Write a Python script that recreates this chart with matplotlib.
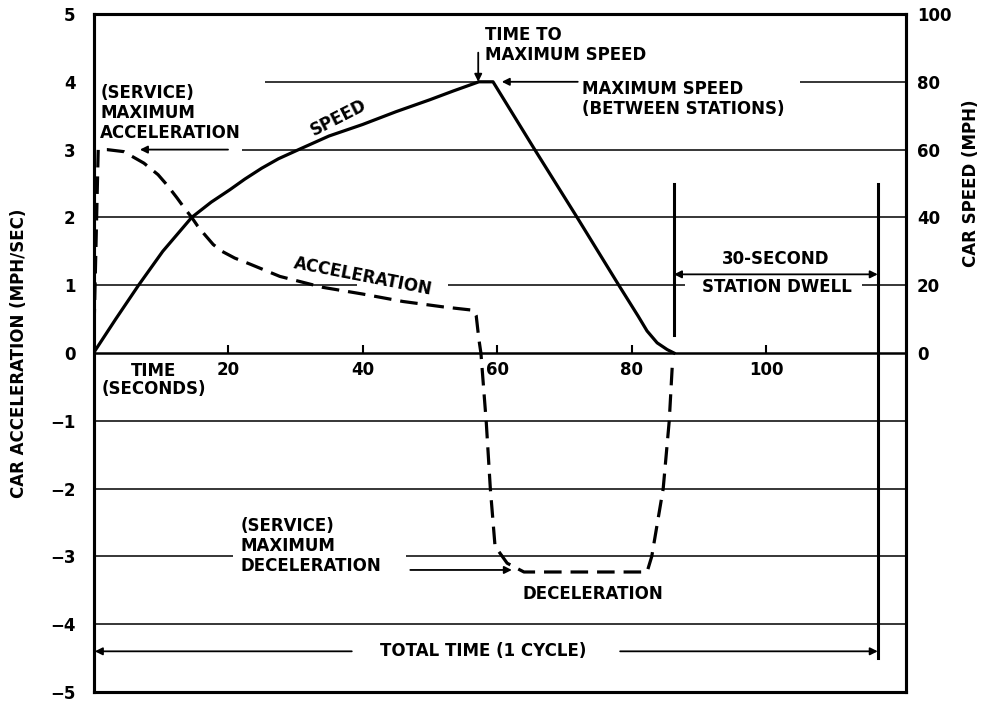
import matplotlib
matplotlib.use("Agg")
import matplotlib.pyplot as plt

plt.rcParams['font.family'] = ['DejaVu Sans']
plt.rcParams['font.weight'] = 'bold'
FS = 12

# ---------------- data ----------------
# Speed curve (time s, speed mph)
speed_t = [0, 3.3, 6.7, 10.3, 14.6, 17.5, 20.3, 22.5, 25.0, 27.5, 30.5, 35.0,
           40.0, 45.0, 50.0, 53.5, 57.3, 59.4,
           65.6, 71.9, 78.1, 81.0, 82.3, 83.8, 85.3, 86.3]
speed_v = [0, 10, 20, 30, 40, 44.5, 48.2, 51.3, 54.5, 57.3, 60, 64.0,
           67.4, 71.2, 74.7, 77.3, 80, 80,
           60, 40, 20, 10.8, 6.5, 3.0, 1.0, 0]

# Acceleration curve (time s, acceleration mph/sec)
acc_t = [0, 0.7, 2.0, 4.5, 7.5, 9.6, 11.0, 12.4, 13.5, 14.6, 15.5, 16.5,
         17.8, 19.1, 21.0, 23.3, 27.7, 34.0,
         40.0, 46.0, 52.0, 56.5, 56.9, 57.3, 57.6, 58.4, 59.0, 59.7, 61.5, 64.0,
         82.3, 83.0, 84.7, 85.6, 86.1]
acc_v = [0, 3.0, 3.0, 2.97, 2.8, 2.63, 2.47, 2.29, 2.14, 2.0, 1.87, 1.75,
         1.6, 1.5, 1.4, 1.31, 1.13, 0.97,
         0.87, 0.76, 0.68, 0.63, 0.55, 0.2, 0.0, -1.03, -2.0, -2.85, -3.1, -3.23,
         -3.23, -3.0, -2.0, -1.0, -0.1]

x_ticks = [20, 40, 60, 80, 100]
acc_ticks = [5, 4, 3, 2, 1, 0, -1, -2, -3, -4, -5]
speed_ticks = [0, 20, 40, 60, 80, 100]

t_max_speed = 57.2
t_dwell_start = 86.3
t_dwell_end = 116.6
XMAX = 120.8

# horizontal reference line segments: (level, t_start, t_end)
grid_segments = [
    (4, 25.5, 57.2), (4, 105.0, XMAX),
    (3, 22.1, XMAX),
    (2, 0, XMAX),
    (1, 0, 39.2), (1, 52.7, 88.0), (1, 114.2, XMAX),
    (-1, 0, XMAX), (-2, 0, XMAX),
    (-3, 0, 20.8), (-3, 46.5, XMAX),
    (-4, 0, XMAX),
]

# ---------------- figure ----------------
fig = plt.figure(figsize=(9.85, 7.02), dpi=100)
ax = fig.add_axes([93.5 / 985, 10 / 702, (906 - 93.5) / 985, (692 - 14) / 702])
ax.set_xlim(0, XMAX)
ax.set_ylim(-5, 5)

for lvl, a, b in grid_segments:
    ax.plot([a, b], [lvl, lvl], color='black', lw=1.1, solid_capstyle='butt', zorder=1)

# curves
ax.plot(acc_t, acc_v, color='black', lw=2.3, dashes=(5.5, 2.8), zorder=3)
ax2 = ax.twinx()
ax2.set_ylim(-100, 100)
ax2.plot(speed_t, speed_v, color='black', lw=2.3, zorder=3)

# dwell markers
ax.plot([t_dwell_start, t_dwell_start], [2.49, 0.27], color='black', lw=2.2)
ax.plot([t_dwell_end, t_dwell_end], [2.49, -4.5], color='black', lw=2.2)

# spines
for s in ax.spines.values():
    s.set_linewidth(2.2)
for s in ax2.spines.values():
    s.set_linewidth(2.2)

# left axis ticks
ax.set_yticks(acc_ticks)
ax.set_yticklabels([str(v).replace('-', '\u2212') for v in acc_ticks])
ax.tick_params(axis='y', length=0, pad=13, labelsize=FS)
ax.set_xticks([])
ax.set_ylabel('CAR ACCELERATION (MPH/SEC)', fontsize=FS, fontweight='bold')
ax.yaxis.set_label_coords(-0.0807, 0.5)

# right axis
ax2.set_yticks(speed_ticks)
ax2.tick_params(axis='y', length=0, pad=8, labelsize=FS)
ax2.set_ylabel('CAR SPEED (MPH)', fontsize=FS, fontweight='bold')
ax2.yaxis.set_label_coords(1.069, 0.75)

# time axis at zero
sec = ax.secondary_xaxis(0, transform=ax.transData)
sec.set_xticks(x_ticks)
sec.tick_params(direction='in', length=6, width=1.5, labelsize=FS, pad=6)
sec.spines['bottom'].set_linewidth(1.8)

# ---------------- annotations ----------------
arrow = dict(arrowstyle='-|>', lw=1.3, color='black', mutation_scale=11,
             shrinkA=0, shrinkB=0)
both = dict(arrowstyle='<|-|>', lw=1.3, color='black', mutation_scale=11,
            shrinkA=0, shrinkB=0)

ax.text(1.0, 3.54, '(SERVICE)\nMAXIMUM\nACCELERATION', ha='left', va='center',
        fontsize=FS, linespacing=1.15)
ax.annotate('', xy=(6.9, 3), xytext=(20.0, 3), arrowprops=arrow)

ax.text(58.2, 4.54, 'TIME TO\nMAXIMUM SPEED', ha='left', va='center',
        fontsize=FS, linespacing=1.15)
ax.annotate('', xy=(t_max_speed, 4.0), xytext=(t_max_speed, 4.43), arrowprops=arrow)

ax.text(72.6, 3.75, 'MAXIMUM SPEED\n(BETWEEN STATIONS)', ha='left', va='center',
        fontsize=FS, linespacing=1.15)
ax.annotate('', xy=(60.7, 4.0), xytext=(72.0, 4.0), arrowprops=arrow)

ax.text(36.4, 3.47, 'SPEED', rotation=27, ha='center', va='center', fontsize=FS)
ax.text(40.1, 1.13, 'ACCELERATION', rotation=-11, ha='center', va='center', fontsize=FS)

ax.text(9.0, -0.40, 'TIME\n(SECONDS)', ha='center', va='center', fontsize=FS,
        linespacing=1.05)

ax.text(101.4, 1.38, '30-SECOND', ha='center', va='center', fontsize=FS)
ax.text(101.6, 0.97, 'STATION DWELL', ha='center', va='center', fontsize=FS)
ax.annotate('', xy=(t_dwell_start, 1.16), xytext=(t_dwell_end, 1.16), arrowprops=both)

ax.text(21.8, -2.85, '(SERVICE)\nMAXIMUM\nDECELERATION', ha='left', va='center',
        fontsize=FS, linespacing=1.15)
ax.annotate('', xy=(62.2, -3.2), xytext=(47.1, -3.2), arrowprops=arrow)

ax.text(74.3, -3.55, 'DECELERATION', ha='center', va='center', fontsize=FS)

ax.text(58.0, -4.4, 'TOTAL TIME (1 CYCLE)', ha='center', va='center', fontsize=FS)
ax.annotate('', xy=(0.2, -4.4), xytext=(38.4, -4.4), arrowprops=arrow)
ax.annotate('', xy=(t_dwell_end, -4.4), xytext=(78.3, -4.4), arrowprops=arrow)

fig.savefig('out.png', dpi=100)
